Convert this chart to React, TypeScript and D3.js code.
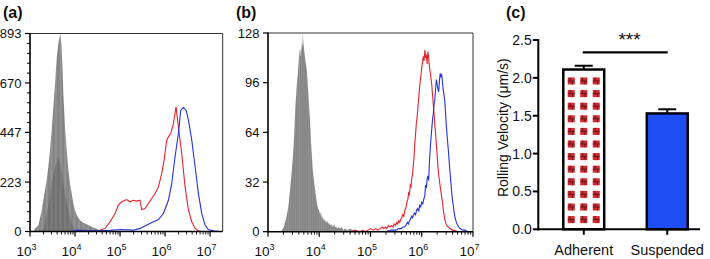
import React from 'react';
import * as d3 from 'd3';

// ---------- data ----------
const panelLabels = ['(a)', '(b)', '(c)'];
const decadeExponents = [3, 4, 5, 6, 7];
const aYTicks = [0, 223, 447, 670, 893];
const bYTicks = [0, 32, 64, 96, 128];

// [log10(fluorescence), count]
const aGrayOuter: [number, number][] = [
  [3.08, 0], [3.111, 13], [3.185, 28], [3.222, 59], [3.259, 96], [3.296, 141], [3.333, 186],
  [3.370, 231], [3.407, 291], [3.444, 367], [3.481, 457], [3.519, 560], [3.556, 668],
  [3.593, 780], [3.630, 850], [3.674, 893], [3.700, 840], [3.722, 740], [3.741, 620],
  [3.778, 472], [3.815, 367], [3.852, 277], [3.889, 217], [3.926, 171], [3.963, 126],
  [4.0, 96], [4.037, 74], [4.111, 51], [4.185, 39], [4.259, 33], [4.333, 25], [4.407, 18],
  [4.481, 12], [4.556, 6], [4.63, 2], [4.68, 0],
];
const aGrayInner: [number, number][] = [
  [3.26, 0], [3.30, 12], [3.33, 40], [3.40, 110], [3.46, 190], [3.52, 260], [3.57, 300],
  [3.63, 335], [3.68, 300], [3.72, 240], [3.78, 170], [3.83, 110], [3.89, 60], [3.95, 25],
  [4.0, 8], [4.05, 0],
];
const aRed: [number, number][] = [
  [4.50, 0], [4.556, 6], [4.667, 14], [4.778, 44], [4.889, 81], [4.963, 119], [5.037, 134],
  [5.111, 141], [5.148, 144], [5.222, 134], [5.296, 141], [5.370, 137], [5.444, 141],
  [5.481, 99], [5.556, 104], [5.630, 126], [5.704, 149], [5.778, 171], [5.852, 201],
  [5.926, 262], [5.978, 322], [6.037, 412], [6.074, 427], [6.126, 442], [6.185, 487],
  [6.244, 562], [6.296, 472], [6.370, 352], [6.444, 201], [6.519, 96], [6.593, 44],
  [6.667, 14], [6.741, 3], [6.80, 0],
];
const aBlue: [number, number][] = [
  [3.95, 0], [4.04, 6], [4.3, 3], [4.556, 3], [4.8, 5], [5.0, 9], [5.296, 6], [5.444, 14],
  [5.593, 29], [5.741, 44], [5.852, 54], [5.963, 81], [6.074, 141], [6.148, 216],
  [6.222, 337], [6.296, 442], [6.348, 547], [6.407, 559], [6.467, 547], [6.519, 502],
  [6.593, 412], [6.667, 292], [6.741, 171], [6.815, 81], [6.889, 29], [6.963, 9],
  [7.074, 3], [7.2, 0],
];

const bGray: [number, number][] = [
  [3.25, 0], [3.27, 1], [3.29, 2], [3.31, 3], [3.33, 6], [3.35, 8], [3.37, 11], [3.39, 15],
  [3.41, 20], [3.42, 24], [3.43, 27], [3.44, 31], [3.45, 34], [3.46, 38], [3.47, 42],
  [3.48, 46], [3.49, 50], [3.50, 56], [3.51, 62], [3.52, 70], [3.53, 78], [3.54, 84],
  [3.55, 88], [3.56, 94], [3.57, 98], [3.58, 101], [3.59, 106], [3.60, 110], [3.61, 119],
  [3.62, 114], [3.63, 113], [3.64, 118], [3.65, 116], [3.66, 122], [3.67, 119], [3.68, 128],
  [3.69, 122], [3.70, 119], [3.71, 116], [3.72, 113], [3.73, 110], [3.74, 108], [3.75, 106],
  [3.76, 103], [3.77, 98], [3.78, 92], [3.79, 88], [3.80, 82], [3.81, 77], [3.82, 72],
  [3.83, 66], [3.84, 58], [3.85, 52], [3.86, 47], [3.87, 42], [3.88, 38], [3.89, 35],
  [3.90, 32], [3.91, 29], [3.92, 27], [3.93, 24], [3.94, 22], [3.95, 19], [3.96, 17],
  [3.97, 16], [3.98, 14], [3.99, 15], [4.00, 13], [4.01, 12], [4.02, 13], [4.03, 10],
  [4.04, 12], [4.05, 9], [4.06, 10], [4.07, 8], [4.08, 9], [4.09, 7], [4.10, 8], [4.12, 6],
  [4.13, 8], [4.15, 5], [4.16, 7], [4.18, 5], [4.19, 6], [4.21, 4], [4.23, 5], [4.25, 4],
  [4.27, 3], [4.29, 5], [4.31, 3], [4.33, 3], [4.36, 2], [4.38, 3], [4.41, 2], [4.44, 3],
  [4.47, 1], [4.5, 2], [4.55, 1], [4.6, 2], [4.65, 1], [4.7, 1], [4.8, 0],
];
const bRed: [number, number][] = [
  [4.6, 0], [4.7, 1], [4.8, 0], [4.85, 1], [4.9, 0], [4.95, 1], [5.0, 2], [5.05, 1],
  [5.1, 2], [5.15, 1], [5.19, 2], [5.23, 3], [5.26, 2], [5.29, 3], [5.32, 2], [5.35, 4],
  [5.38, 3], [5.41, 4], [5.44, 3], [5.46, 5], [5.49, 4], [5.51, 6], [5.53, 5], [5.55, 7],
  [5.57, 6], [5.59, 8], [5.61, 9], [5.63, 11], [5.65, 10], [5.67, 14], [5.69, 15],
  [5.71, 19], [5.73, 21], [5.745, 25], [5.76, 24], [5.775, 30], [5.79, 29], [5.805, 34],
  [5.82, 37], [5.835, 43], [5.85, 48], [5.865, 57], [5.88, 63], [5.895, 70], [5.91, 74],
  [5.925, 80], [5.94, 86], [5.955, 92], [5.97, 97], [5.985, 101], [6.0, 106], [6.015, 109],
  [6.03, 113], [6.045, 110], [6.06, 117], [6.075, 112], [6.09, 114], [6.105, 108],
  [6.12, 116], [6.135, 112], [6.15, 106], [6.165, 103], [6.18, 99], [6.195, 95], [6.21, 88],
  [6.225, 82], [6.24, 76], [6.255, 69], [6.27, 63], [6.285, 56], [6.30, 50], [6.315, 42],
  [6.33, 37], [6.345, 33], [6.36, 29], [6.375, 26], [6.39, 22], [6.405, 19], [6.42, 14],
  [6.435, 11], [6.45, 8], [6.465, 6], [6.48, 4.5], [6.50, 3.5], [6.52, 3], [6.55, 2],
  [6.6, 1], [6.65, 0.7], [6.7, 0],
];
const bBlue: [number, number][] = [
  [5.3, 0], [5.4, 1], [5.5, 1], [5.55, 2], [5.6, 2], [5.63, 3], [5.66, 3], [5.69, 4],
  [5.72, 6], [5.74, 5], [5.76, 7], [5.78, 8], [5.8, 10], [5.82, 9], [5.84, 11], [5.86, 12],
  [5.88, 11], [5.90, 14], [5.92, 15], [5.94, 13], [5.96, 17], [5.98, 16], [6.0, 19],
  [6.02, 18], [6.04, 21], [6.06, 23], [6.075, 30], [6.09, 28], [6.105, 34], [6.12, 36],
  [6.135, 33], [6.15, 45], [6.165, 53], [6.18, 60], [6.195, 66], [6.21, 72], [6.225, 76],
  [6.24, 82], [6.255, 85], [6.27, 92], [6.285, 98], [6.30, 95], [6.315, 92], [6.33, 90],
  [6.345, 97], [6.36, 102], [6.375, 100], [6.39, 101], [6.405, 96], [6.42, 91], [6.435, 88],
  [6.45, 84], [6.465, 76], [6.48, 68], [6.495, 62], [6.51, 56], [6.525, 50], [6.54, 43],
  [6.555, 37], [6.57, 31], [6.585, 25], [6.60, 20], [6.615, 17], [6.63, 13], [6.645, 10],
  [6.66, 8], [6.675, 6], [6.69, 5], [6.72, 3], [6.75, 2], [6.8, 1], [6.85, 1], [6.9, 0],
  [6.95, 0],
];

const cCategories = ['Adherent', 'Suspended'];
const cValues = [2.11, 1.53];
const cErrors = [0.05, 0.055];
const cYTicks = [0, 0.5, 1.0, 1.5, 2.0, 2.5];
const cYLabel = 'Rolling Velocity (μm/s)';
const cSignificance = '***';

// ---------- styles ----------
const FONT = 'Liberation Sans, Arial, Helvetica, sans-serif';
const RED = '#e8222b';
const BLUE = '#2233e0';
const BAR_BLUE = '#1f4ff2';

type Pt = [number, number];

interface HistProps {
  x: d3.ScaleLogarithmic<number, number>;
  y: d3.ScaleLinear<number, number>;
  yTicks: number[];
  yMinorStep?: number;
  grayLayers: { data: Pt[]; fill: string }[];
  red: Pt[];
  blue: Pt[];
  label: string;
  labelX: number;
}

function HistPanel({ x, y, yTicks, yMinorStep, grayLayers, red, blue, label, labelX }: HistProps) {
  const [x0, x1] = x.range();
  const [y0, y1] = y.range();
  const area = d3
    .area<Pt>()
    .x((d) => x(Math.pow(10, d[0])))
    .y0(y(0))
    .y1((d) => y(d[1]));
  const line = d3
    .line<Pt>()
    .x((d) => x(Math.pow(10, d[0])))
    .y((d) => y(d[1]));
  const dom = x.domain();
  const minor: number[] = [];
  decadeExponents.forEach((e) => {
    for (let m = 2; m <= 9; m++) {
      const v = m * Math.pow(10, e);
      if (v > dom[0] && v < dom[1]) minor.push(v);
    }
  });
  const majors = decadeExponents.map((e) => Math.pow(10, e)).filter((v) => v >= dom[0] && v <= dom[1] * 1.0001);
  const yMinor: number[] = [];
  if (yMinorStep) {
    const ymax = y.domain()[1];
    for (let v = yMinorStep; v < ymax; v += yMinorStep) {
      if (!yTicks.some((t) => Math.abs(t - v) < yMinorStep / 3)) yMinor.push(v);
    }
  }
  return (
    <g>
      <text x={labelX} y={18} fontFamily={FONT} fontWeight="bold" fontSize={16} fill="#111">
        {label}
      </text>
      {grayLayers.map((g, i) => (
        <path key={i} d={area(g.data) || ''} fill={g.fill} stroke="none" />
      ))}
      <path d={line(red) || ''} fill="none" stroke={RED} strokeWidth={1.1} />
      <path d={line(blue) || ''} fill="none" stroke={BLUE} strokeWidth={1.1} />
      {/* frame top/right */}
      <line x1={x0} x2={x1} y1={y1} y2={y1} stroke="#333" strokeWidth={1} />
      <line x1={x1} x2={x1} y1={y1} y2={y0} stroke="#333" strokeWidth={1} />
      {/* axes */}
      <line x1={x0} x2={x0} y1={y1 - 0.5} y2={y0 + 0.75} stroke="#000" strokeWidth={1.6} />
      <line x1={x0} x2={x1} y1={y0} y2={y0} stroke="#000" strokeWidth={1.6} />
      {yTicks.map((t) => (
        <g key={'yt' + t}>
          <line x1={x0 - 5} x2={x0} y1={y(t)} y2={y(t)} stroke="#000" strokeWidth={1.2} />
          <text x={x0 - 8.5} y={y(t)} dy="0.36em" textAnchor="end" fontFamily={FONT} fontSize={13} fill="#111">
            {t}
          </text>
        </g>
      ))}
      {yMinor.map((t) => (
        <line key={'ym' + t} x1={x0 - 3} x2={x0} y1={y(t)} y2={y(t)} stroke="#000" strokeWidth={1} />
      ))}
      {minor.map((v) => (
        <line key={'xm' + v} x1={x(v)} x2={x(v)} y1={y0} y2={y0 + 3} stroke="#000" strokeWidth={0.9} />
      ))}
      {majors.map((v) => (
        <g key={'xt' + v}>
          <line x1={x(v)} x2={x(v)} y1={y0} y2={y0 + 5} stroke="#000" strokeWidth={1.2} />
          <text x={x(v) - 13.6} y={256} fontFamily={FONT} fontSize={13.5} fill="#111">
            10
            <tspan dy={-6} fontSize={9}>
              {Math.round(Math.log10(v))}
            </tspan>
          </text>
        </g>
      ))}
    </g>
  );
}

function BarPanel() {
  const y = d3.scaleLinear().domain([0, 2.5]).range([229.3, 40]);
  const x = d3.scaleBand().domain(cCategories).range([542, 709]).paddingInner(0.51).paddingOuter(0.255);
  const bw = x.bandwidth();
  const axisX0 = 538.3;
  const axisX1 = 700;
  const y0 = y(0);
  const squares: { cx: number; cy: number }[] = [];
  const adhCx = (x(cCategories[0]) as number) + bw / 2;
  const adhTop = y(cValues[0]);
  for (let r = 0; ; r++) {
    const cy = y0 - 9.7 - r * 12.6;
    if (cy - 3.5 < adhTop + 4) break;
    for (let k = -1; k <= 1; k++) squares.push({ cx: adhCx + k * 12.5, cy });
  }
  const c1 = (x(cCategories[0]) as number) + bw / 2;
  const c2 = (x(cCategories[1]) as number) + bw / 2;
  return (
    <g>
      <text x={506} y={18} fontFamily={FONT} fontWeight="bold" fontSize={16} fill="#111">
        {panelLabels[2]}
      </text>
      {cCategories.map((c, i) => {
        const bx = x(c) as number;
        const top = y(cValues[i]);
        const errTop = y(cValues[i] + cErrors[i]);
        const cx = bx + bw / 2;
        return (
          <g key={c}>
            <line x1={cx} x2={cx} y1={top} y2={errTop} stroke="#000" strokeWidth={2} />
            <line x1={cx - 9} x2={cx + 9} y1={errTop} y2={errTop} stroke="#000" strokeWidth={2} />
            <rect x={bx} y={top} width={bw} height={y0 - top} fill={i === 0 ? '#fff' : BAR_BLUE} stroke="none" />
          </g>
        );
      })}
      {squares.map((s, i) => (
        <g key={i}>
          <rect x={s.cx - 3.5} y={s.cy - 3.5} width={7} height={7} fill="#d3262e" />
          <path
            d={`M${s.cx - 3.5} ${s.cy} H${s.cx + 3.5} M${s.cx - 1.2} ${s.cy - 3.5} V${s.cy} M${s.cx + 1.2} ${s.cy} V${s.cy + 3.5}`}
            stroke="#4d1414"
            strokeWidth={0.8}
          />
        </g>
      ))}
      {cCategories.map((c, i) => {
        const bx = x(c) as number;
        const top = y(cValues[i]);
        return <rect key={'o' + c} x={bx} y={top} width={bw} height={y0 - top} fill="none" stroke="#000" strokeWidth={2.5} />;
      })}
      {/* axes */}
      <line x1={axisX0} x2={axisX0} y1={y(2.5) - 1} y2={y0 + 1} stroke="#000" strokeWidth={2} />
      <line x1={axisX0 - 1} x2={axisX1} y1={y0} y2={y0} stroke="#000" strokeWidth={2} />
      {cYTicks.map((t) => (
        <g key={t}>
          <line x1={axisX0 - 5.5} x2={axisX0} y1={y(t)} y2={y(t)} stroke="#000" strokeWidth={2} />
          <text x={axisX0 - 6.5} y={y(t)} dy="0.36em" textAnchor="end" fontFamily={FONT} fontSize={14} fill="#111">
            {t.toFixed(1)}
          </text>
        </g>
      ))}
      {cCategories.map((c) => {
        const cx = (x(c) as number) + bw / 2;
        return (
          <g key={'xl' + c}>
            <line x1={cx} x2={cx} y1={y0} y2={y0 + 5.5} stroke="#000" strokeWidth={2} />
            <text x={cx} y={255} textAnchor="middle" fontFamily={FONT} fontSize={14.5} fill="#111">
              {c}
            </text>
          </g>
        );
      })}
      <text
        transform={`translate(507.5, ${(y(2.5) + y0) / 2 - 7}) rotate(-90)`}
        textAnchor="middle"
        fontFamily={FONT}
        fontSize={14}
        fill="#111"
      >
        {cYLabel}
      </text>
      {/* significance */}
      <line x1={c1 - 1} x2={c2 + 0.5} y1={52.3} y2={52.3} stroke="#000" strokeWidth={2.2} />
      <text x={(c1 + c2) / 2 + 4} y={46} textAnchor="middle" fontFamily={FONT} fontSize={19} fill="#111">
        {cSignificance}
      </text>
    </g>
  );
}

export default function App() {
  const aX = d3.scaleLog().domain([1e3, Math.pow(10, 7.28)]).range([30, 222.7]);
  const aY = d3.scaleLinear().domain([0, 893]).range([231.5, 33.5]);
  const bX = d3.scaleLog().domain([1e3, 1e7]).range([268, 473]);
  const bY = d3.scaleLinear().domain([0, 128]).range([231.7, 33]);
  return (
    <svg
      width={710}
      height={259}
      viewBox="0 0 710 259"
      style={{ position: 'fixed', left: 0, top: 0, background: '#fff', display: 'block' }}
    >
      <defs>
        <pattern id="stripeA" patternUnits="userSpaceOnUse" width={4.6} height={10}>
          <rect width={4.6} height={10} fill="#858585" />
          <rect x={0} width={1.6} height={10} fill="#979797" />
        </pattern>
        <pattern id="stripeAIn" patternUnits="userSpaceOnUse" width={4.6} height={10}>
          <rect width={4.6} height={10} fill="#707070" />
          <rect x={0} width={1.6} height={10} fill="#808080" />
        </pattern>
        <pattern id="stripeB" patternUnits="userSpaceOnUse" width={2.2} height={10}>
          <rect width={2.2} height={10} fill="#858585" />
          <rect x={0} width={0.6} height={10} fill="#999" />
        </pattern>
      </defs>
      <rect width={710} height={259} fill="#fff" />
      <HistPanel
        x={aX}
        y={aY}
        yTicks={aYTicks}
        yMinorStep={893 / 20}
        grayLayers={[
          { data: aGrayOuter, fill: 'url(#stripeA)' },
          { data: aGrayInner, fill: 'url(#stripeAIn)' },
        ]}
        red={aRed}
        blue={aBlue}
        label={panelLabels[0]}
        labelX={3}
      />
      <HistPanel
        x={bX}
        y={bY}
        yTicks={bYTicks}
        grayLayers={[{ data: bGray, fill: 'url(#stripeB)' }]}
        red={bRed}
        blue={bBlue}
        label={panelLabels[1]}
        labelX={236}
      />
      <BarPanel />
    </svg>
  );
}
